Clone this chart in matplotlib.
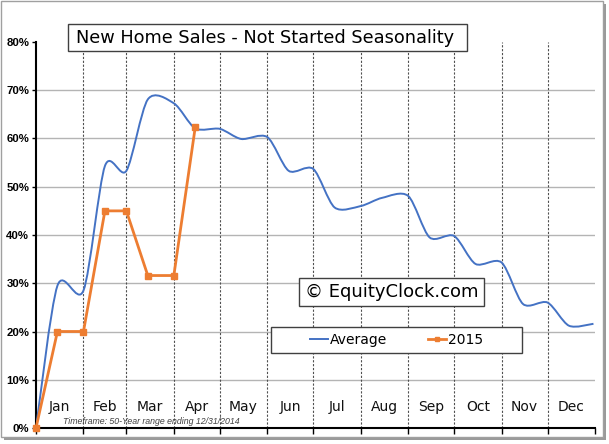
import numpy as np
import pandas as pd
import matplotlib.pyplot as plt
from matplotlib.path import Path
from matplotlib.patches import PathPatch, Rectangle
from matplotlib.lines import Line2D

# Seasonal average (50-year), sampled on the 1st and 15th of each month
avg_dates = ["01-01", "01-15", "02-01", "02-15", "03-01", "03-15", "04-01", "04-15",
             "05-01", "05-15", "06-01", "06-15", "07-01", "07-15", "08-01", "08-15",
             "09-01", "09-15", "10-01", "10-15", "11-01", "11-15", "12-01", "12-15", "12-31"]
avg_values = [0, 29.5, 28.5, 54.3, 53.3, 68.1, 67.3, 62.1,
              62.0, 59.9, 60.3, 53.3, 53.7, 45.7, 46.0, 47.7,
              48.1, 39.5, 39.8, 34.0, 34.3, 25.7, 26.0, 21.2, 21.6]

# 2015 year to date
ytd_dates = ["01-01", "01-15", "02-01", "02-15", "03-01", "03-15", "04-01", "04-15"]
ytd_values = [0, 20, 20, 45, 45, 31.6, 31.6, 62.4]

months = ["Jan", "Feb", "Mar", "Apr", "May", "Jun",
          "Jul", "Aug", "Sep", "Oct", "Nov", "Dec"]
y_ticks = [0, 10, 20, 30, 40, 50, 60, 70, 80]

BLUE = "#4472C4"
ORANGE = "#ED7D31"


def day_of_year(dates):
    return np.array([pd.Timestamp("2014-" + d).dayofyear - 1 for d in dates], float)


def smooth_path(x, y, k=0.14):
    # smoothed line like Excel: cubic bezier, control points from neighbour chords
    px = np.concatenate([[x[0]], x, [x[-1]]])
    py = np.concatenate([[y[0]], y, [y[-1]]])
    verts = [(x[0], y[0])]
    codes = [Path.MOVETO]
    for j in range(1, len(px) - 2):
        c1 = (px[j] + (px[j + 1] - px[j - 1]) * k, py[j] + (py[j + 1] - py[j - 1]) * k)
        c2 = (px[j + 1] - (px[j + 2] - px[j]) * k, py[j + 1] - (py[j + 2] - py[j]) * k)
        verts += [c1, c2, (px[j + 1], py[j + 1])]
        codes += [Path.CURVE4] * 3
    return Path(verts, codes)


avg_x = day_of_year(avg_dates)
ytd_x = day_of_year(ytd_dates)
month_starts = day_of_year([f"{m:02d}-01" for m in range(1, 13)])
bounds = np.append(month_starts, 365)
mids = (bounds[:-1] + bounds[1:]) / 2

W, H = 609, 444
fig = plt.figure(figsize=(W / 100, H / 100), dpi=100)


def fx(px):
    return px / W


def fy(py):
    return (H - py) / H


# outer frame with shadow
fig.patches.append(Rectangle((fx(4), fy(440)), fx(602), 436 / H, transform=fig.transFigure,
                             facecolor="#9a9a9a", edgecolor="none", zorder=-2))
fig.patches.append(Rectangle((fx(1), fy(437)), fx(602), 436 / H, transform=fig.transFigure,
                             facecolor="white", edgecolor="#a0a0a0", lw=1, zorder=-1))

ax = fig.add_axes([fx(36), fy(428), fx(559), 386 / H])
ax.set_facecolor("none")
ax.set_xlim(0, 365)
ax.set_ylim(0, 80)

for v in y_ticks[1:-1]:
    ax.axhline(v, color="#b4b4b4", lw=1, zorder=1)
for b in bounds[1:-1]:
    ax.axvline(b, color="#505050", lw=0.8, ls=(0, (2, 1.5)), zorder=1)

ax.add_patch(PathPatch(smooth_path(avg_x, np.array(avg_values, float)),
                       facecolor="none", edgecolor=BLUE, lw=1.4, zorder=3))
ax.plot(ytd_x, ytd_values, color=ORANGE, lw=2, marker="s", markersize=5, zorder=4,
        clip_on=False)

for sp in ["top", "right"]:
    ax.spines[sp].set_visible(False)
for sp in ["left", "bottom"]:
    ax.spines[sp].set_linewidth(1.5)
    ax.spines[sp].set_color("black")

ax.set_xticks(bounds)
ax.set_xticklabels([])
ax.tick_params(axis="x", direction="out", length=4, width=1)
ax.set_yticks(y_ticks)
ax.set_yticklabels([f"{v}%" for v in y_ticks], fontfamily="Liberation Sans",
                   fontweight="bold", fontsize=8.2)
ax.tick_params(axis="y", direction="out", length=3, width=1, pad=2)

for m, name in zip(mids, months):
    ax.text(m, 0.054, name, transform=ax.get_xaxis_transform(), ha="center", va="center",
            fontsize=10, color="#111111")

ax.text(0.048, 0.018, "Timeframe: 50-Year range ending 12/31/2014", transform=ax.transAxes,
        ha="left", va="center", fontsize=6.3, style="italic", family="Liberation Sans",
        color="#404040")

# title box
fig.patches.append(Rectangle((fx(68), fy(51.5)), fx(398.5), 27.5 / H, transform=fig.transFigure,
                             facecolor="white", edgecolor="#404040", lw=1, zorder=5))
fig.text(fx(265), fy(38), "New Home Sales - Not Started Seasonality", ha="center", va="center",
         fontsize=12.8, color="black", zorder=6)

# watermark box
fig.patches.append(Rectangle((fx(299), fy(306)), fx(185), 28 / H, transform=fig.transFigure,
                             facecolor="white", edgecolor="#404040", lw=1, zorder=5))
fig.text(fx(391.5), fy(292), "\u00a9 EquityClock.com", ha="center", va="center",
         fontsize=13, color="black", zorder=6)

# legend box
fig.patches.append(Rectangle((fx(271), fy(353)), fx(251), 26.5 / H, transform=fig.transFigure,
                             facecolor="white", edgecolor="#404040", lw=1, zorder=5))
handles = [Line2D([], [], color=BLUE, lw=1.4),
           Line2D([], [], color=ORANGE, lw=2, marker="s", markersize=3.5)]
leg = fig.legend(handles, ["Average", "2015"], loc="center", bbox_to_anchor=(fx(396.5), fy(340)),
                 ncol=2, frameon=False, fontsize=10, handlelength=1.3, handletextpad=0.15,
                 columnspacing=2.9, borderpad=0)
leg.set_zorder(6)

fig.savefig("out.png", dpi=100)
